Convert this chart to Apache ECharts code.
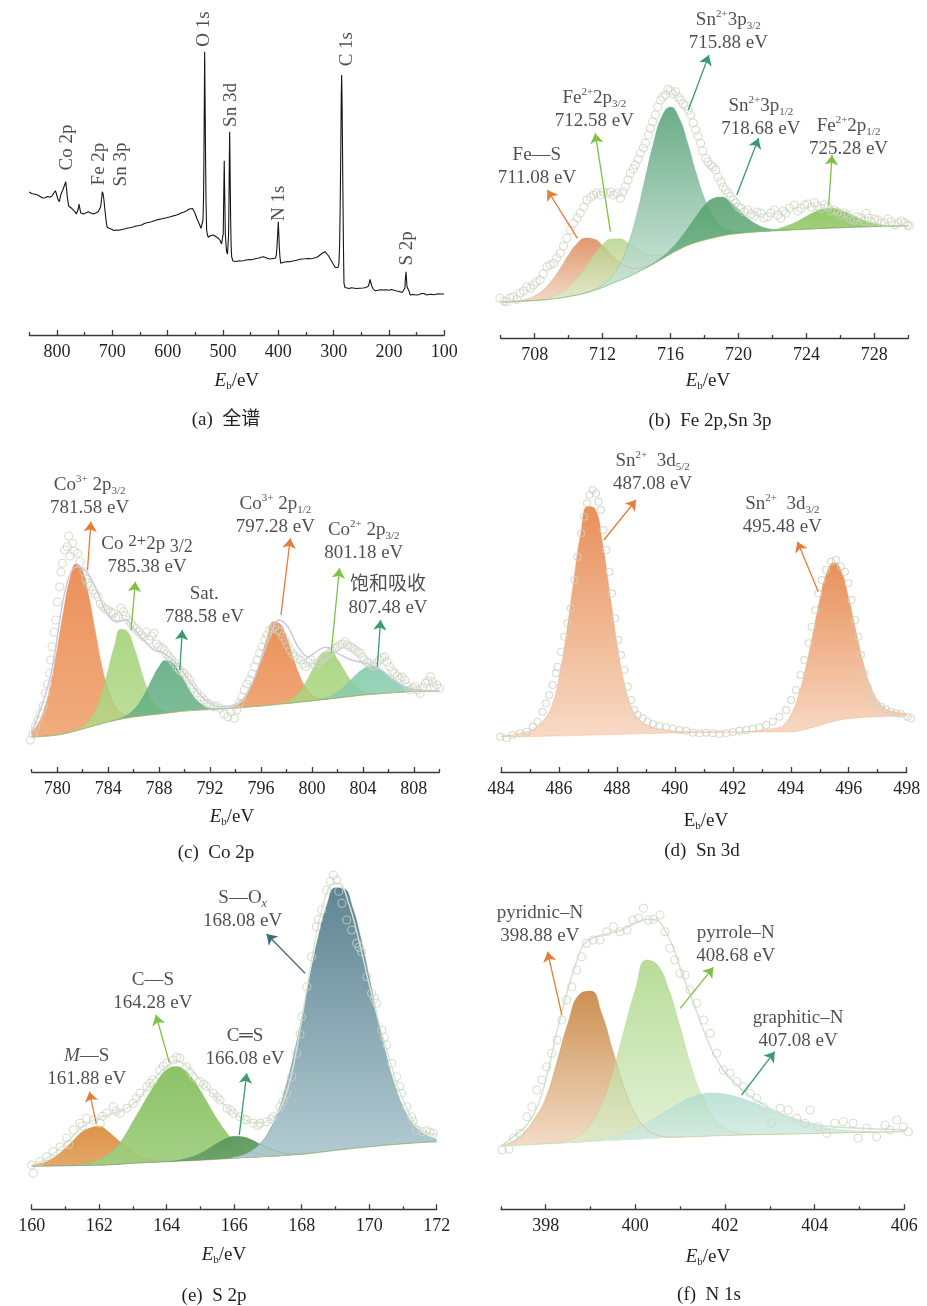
<!DOCTYPE html>
<html>
<head>
<meta charset="utf-8">
<script src="https://cdn.jsdelivr.net/npm/echarts@6.0.0/dist/echarts.min.js"></script>
<style>
html,body{margin:0;padding:0;background:#fff;}
#chart{width:927px;height:1306px;}
</style>
</head>
<body>
<div id="chart"></div>
<script>
// ===================== DATA =====================
// (a) survey spectrum: [binding energy eV, intensity a.u.]
const surveyData = [[850,143],[846,141.5],[842.8,142.3],[838,140.5],[834,139.8],[830.7,138.3],[826,137],[821.7,137.3],[817,138.5],[812.7,137.7],[809,139],[806.6,140],[803,144.3],[801.5,142],[800.6,143.3],[798.2,135.7],[795.8,133.3],[793.5,139],[792.2,141.7],[789.5,145],[787.3,148.3],[785.5,151],[784.3,153.3],[782.8,147],[781.4,138.3],[778.9,129],[776,127.5],[773.5,126.7],[770,125],[767.5,123.3],[765,121],[763.3,120],[761.5,126],[760.2,131],[758.8,127],[757.2,122.3],[754.5,121.5],[752.4,121],[748,122],[743.4,123.3],[739,122],[734.4,121],[730,122],[725.4,123.3],[722.5,124.5],[721,128.3],[719.2,137],[718.1,143.3],[716.6,141],[715.1,135],[713.5,126],[712,118.3],[710.5,111],[709.1,107.7],[705,106.5],[701.2,105.7],[697,104.5],[692.1,105],[688,104.8],[683,105.5],[678,106],[674.1,106.7],[669,107.2],[664,107.8],[660,108.5],[656,109],[651,109.5],[646,110.2],[642,111.5],[637.9,112.3],[633,112.8],[628,113.5],[624,114.3],[619.8,115],[615,115.6],[610,116.2],[606,116.8],[601.7,117.3],[597,118],[592,118.8],[588,119.4],[583.7,120],[579,121],[574.6,122.3],[570,123],[565.6,124.3],[561,126],[557.8,127.7],[555,126.5],[552.5,124],[550.6,121.7],[547.5,117],[544.6,113.3],[542,110],[539.7,106.7],[537.5,108],[536.1,115],[535,140],[534.3,185],[533.6,240],[533.1,283.3],[532.4,240],[531.8,200],[531.3,168.3],[530.5,130],[529.5,105],[528,100],[526.5,97.7],[522,99.5],[517.5,100],[513,98.5],[508.5,96.7],[505,94.5],[502.5,91],[500.5,93],[499.5,101.7],[498.6,140],[497.7,174.3],[496.8,140],[495.8,101.7],[494.5,90],[493.3,83.3],[491.8,81],[490.9,80],[489.9,100],[489.1,135],[488.5,175],[487.9,203.3],[487.3,175],[486.6,140],[486.1,115],[485.3,90],[484.3,78.3],[482,74],[480.1,72.7],[476,73.5],[471,74.2],[467,74],[463.3,74.3],[458,75],[453,75.5],[449,75.2],[445.2,75.7],[440,76.5],[435,77],[431,77.8],[427.1,78.3],[423,77.5],[419,76.5],[415,76],[410,76.5],[405.5,76.7],[403.5,80],[402.4,88.3],[401.2,100],[400,113.3],[399,100],[398.2,88.3],[397,78],[395.7,71.7],[392,72.5],[388,73],[383,73.5],[378.9,73.3],[374,74],[369,74.5],[365,75],[360.8,75.7],[356,76],[351,76.2],[346,76.5],[341,76.3],[336.7,76.7],[332,77.5],[328,78.5],[324.7,80],[320,82],[317,83],[315.6,83.3],[312,81.5],[309,79],[307.8,77.7],[305,75],[302,72],[300.6,70],[297,67.5],[294.5,66.7],[292,67.5],[290.4,71.7],[289.2,90],[288,135],[287,190],[286.2,240],[285.5,260],[284.8,235],[284,190],[283.1,135],[282.3,90],[281.3,51.7],[279.5,47.5],[277.7,46.3],[272,46.5],[268,47.3],[264.5,47],[259,46.5],[253,46.8],[246.4,47],[242,47.5],[239,48],[237.4,48.7],[235.5,52],[234.3,55.7],[233,53],[231.3,49.3],[229,46.5],[225.3,44.3],[220,44.8],[215,45.3],[210.3,45],[205,45.2],[200,44.8],[196,45.5],[192.2,45],[188,44.2],[184,43.8],[180.1,43.3],[176,42.5],[172.9,41],[171.2,47],[170.5,55],[169.2,63.3],[168.3,56],[167.4,48.3],[166,49],[164.4,47.7],[163,43],[162,40],[158,40.5],[154,40.3],[149.9,40],[145,40.5],[141,41.5],[139.1,42.3],[137,41.5],[134,40.6],[131.8,40],[128,40.5],[124,40.7],[119.8,40.3],[115,40.8],[111,41.2],[107.7,41.7],[104,41],[100.5,41]];
const surveyNames = ['Co 2p','Fe 2p','Sn 3p','O 1s','Sn 3d','N 1s','C 1s','S 2p'];
const surveyNameAt = [[781,187.5],[723.2,171],[684.7,170.5],[533.4,306],[485.9,230],[398.4,131.7],[275,285.8],[166.5,86.7]];

// (b) Fe 2p, Sn 3p — fitted components (height above background)
const feX = [706,706.5,707,707.5,708,708.5,709,709.5,710,710.5,711,711.5,712,712.5,713,713.5,714,714.5,715,715.5,716,716.5,717,717.5,718,718.5,719,719.5,720,720.5,721,721.5,722,722.5,723,723.5,724,724.5,725,725.5,726,726.5,727,727.5,728,728.5,729,729.5,730];
const feBg = [36,36,36.5,37,37.5,38,39,40,41.5,43,45,47.5,50.5,54,57.5,61,65,69.5,74,79,84,88.5,92.5,95.5,98,100,102,103.5,104.5,105.3,106,106.5,107,107.5,108,108.4,108.8,109.2,109.6,110,110.3,110.6,110.9,111.2,111.4,111.6,111.8,112,112];
const feFeS = [0,0.2,0.7,1.9,4.7,9.9,18.4,29.6,41.8,51.4,55,51.4,41.8,29.6,18.4,9.9,4.7,1.9,0.7,0.2,0,0,0,0,0,0,0,0,0,0,0,0,0,0,0,0,0,0,0,0,0,0,0,0,0,0,0,0,0];
const feFe2p32 = [0,0,0,0.1,0.3,0.9,2.2,4.9,9.7,17.1,26.3,35.7,42.8,45,41.7,34,24.4,15.4,8.6,4.2,1.8,0.7,0.2,0,0,0,0,0,0,0,0,0,0,0,0,0,0,0,0,0,0,0,0,0,0,0,0,0,0];
const feSn3p32 = [0,0,0,0,0,0,0,0,0,0,0.2,0.9,2.5,6.8,16,32.6,57.9,89.8,121.4,143.1,147.1,131.7,103,70.2,41.6,21.6,9.8,3.8,1.3,0.4,0.1,0,0,0,0,0,0,0,0,0,0,0,0,0,0,0,0,0,0];
const feSn3p12 = [0,0,0,0,0,0,0,0,0,0,0,0,0,0,0,0,0,0.2,0.7,1.9,4.6,9.6,17,26.1,34.6,39.5,39,33.1,24.3,15.3,8.4,3.9,1.6,0.6,0.2,0,0,0,0,0,0,0,0,0,0,0,0,0,0];
const feFe2p12 = [0,0,0,0,0,0,0,0,0,0,0,0,0,0,0,0,0,0,0,0,0,0,0,0,0,0,0,0,0,0,0.2,0.5,1.2,2.7,5.2,8.7,13,17,19.5,19.8,17.6,13.9,9.6,5.8,3.1,1.5,0.6,0.2,0.1];
const feRaw = [[705.96,39.7],[706.2,37],[706.35,36.3],[706.55,40],[706.74,41.3],[706.95,38.5],[707.14,44.7],[707.35,47],[707.54,51.3],[707.75,50],[707.93,53],[708.1,56],[708.32,58],[708.5,64],[708.72,71.3],[708.9,73],[709.11,74.7],[709.3,80],[709.5,84.7],[709.7,92],[709.9,99.7],[710.1,108],[710.29,114.7],[710.5,120],[710.68,124.7],[710.9,131],[711.08,138],[711.3,141],[711.47,143],[711.65,145],[711.87,143],[712.05,146],[712.26,144.7],[712.45,146],[712.65,143],[712.85,145],[713.05,139.7],[713.2,146],[713.34,151.3],[713.5,158],[713.64,164.7],[713.8,169],[713.93,173],[714.1,179],[714.23,184.7],[714.4,190],[714.52,194.7],[714.7,203],[714.82,209.7],[714.95,216],[715.11,223],[715.25,231],[715.41,238],[715.55,241],[715.71,243],[715.85,249],[716.0,247.3],[716.15,244],[716.3,246.3],[716.45,241],[716.59,238],[716.75,234],[716.89,232],[717.05,228],[717.18,223],[717.33,215],[717.48,208],[717.62,202],[717.77,194.7],[717.9,187],[718.07,179.7],[718.2,176],[718.37,173],[718.5,171],[718.66,168],[718.8,161],[718.96,156.3],[719.1,151],[719.25,148],[719.4,145],[719.55,141.3],[719.7,138],[719.84,134.7],[720.0,131],[720.14,129.7],[720.35,126],[720.53,128],[720.75,124],[720.93,122],[721.1,126],[721.32,124.7],[721.5,120],[721.71,121.3],[721.9,125],[722.11,128],[722.3,123],[722.5,119.7],[722.65,127],[722.79,124.7],[723.0,130],[723.29,133],[723.5,127],[723.68,129.7],[723.9,133],[724.07,134],[724.3,131],[724.47,135.3],[724.65,132],[724.86,129.7],[725.05,133],[725.26,131.3],[725.45,127],[725.65,128],[725.85,126],[726.05,123],[726.25,125],[726.44,123],[726.6,119],[726.83,118],[727.0,121],[727.23,119.7],[727.4,117],[727.52,124.7],[727.65,120],[727.82,116.3],[728.0,119],[728.21,118],[728.4,115],[728.6,115.3],[728.8,119],[729.0,116.3],[729.2,113],[729.4,115],[729.6,117],[729.79,115.3],[729.95,113],[730.05,112]];

// (c) Co 2p
const coX = [778,778.5,779,779.5,780,780.5,781,781.5,782,782.5,783,783.5,784,784.5,785,785.5,786,786.5,787,787.5,788,788.5,789,789.5,790,790.5,791,791.5,792,792.5,793,793.5,794,794.5,795,795.5,796,796.5,797,797.5,798,798.5,799,799.5,800,800.5,801,801.5,802,802.5,803,803.5,804,804.5,805,805.5,806,806.5,807,807.5,808,808.5,809,809.5,810];
const coBg = [35,35.3,35.7,36.3,37,38.2,39.6,41.2,43,44.8,46.6,48.3,50,51.5,52.8,54,55,55.8,56.6,57.3,58,58.8,59.5,60.3,61,61.4,61.8,62.2,62.5,62.9,63.2,63.6,64,64.5,65,65.5,66,66.6,67.2,67.9,68.5,69.1,69.8,70.4,71,71.8,72.5,73.3,74,74.8,75.5,76.3,77,77.5,78,78.5,79,79.4,79.8,80.2,80.5,80.7,80.8,80.9,81];
const coCo3p32 = [5.3,13,28,52.7,86.4,123.4,153.7,167,158,130.4,93.8,58.8,32.2,15.3,6.4,2.3,0.7,0.2,0,0,0,0,0,0,0,0,0,0,0,0,0,0,0,0,0,0,0,0,0,0,0,0,0,0,0,0,0,0,0,0,0,0,0,0,0,0,0,0,0,0,0,0,0,0,0];
const coCo2p32 = [0,0,0,0,0,0,0,0.7,2.3,6.5,15.5,31.1,52.3,75,90,86.5,71,50,29.5,14.5,6,2.1,0.7,0.2,0,0,0,0,0,0,0,0,0,0,0,0,0,0,0,0,0,0,0,0,0,0,0,0,0,0,0,0,0,0,0,0,0,0,0,0,0,0,0,0,0];
const coSat = [0,0,0,0,0,0,0,0,0,0,0,0,0,0.4,1.1,3.1,7.2,14.4,24.9,37,47.6,52.8,50.5,41.7,29.7,18.2,9.6,4.4,1.7,0.6,0.2,0,0,0,0,0,0,0,0,0,0,0,0,0,0,0,0,0,0,0,0,0,0,0,0,0,0,0,0,0,0,0,0,0,0];
const coCo3p12 = [0,0,0,0,0,0,0,0,0,0,0,0,0,0,0,0,0,0,0,0,0,0,0,0,0,0,0,0,0,0,0.2,0.6,2.1,6,14.3,28.6,48.2,68.5,83,80,66.5,47,28,14,6,2.1,0.6,0.2,0,0,0,0,0,0,0,0,0,0,0,0,0,0,0,0,0];
const coCo2b = [0,0,0,0,0,0,0,0,0,0,0,0,0,0,0,0,0,0,0,0,0,0,0,0,0,0,0,0,0,0,0,0,0,0,0,0,0,0,0.2,0.6,1.8,4.7,10.2,19,30.3,41,47.4,46.6,39.1,27.9,17,8.8,3.9,1.5,0.5,0.1,0,0,0,0,0,0,0,0,0];
const coShake = [0,0,0,0,0,0,0,0,0,0,0,0,0,0,0,0,0,0,0,0,0,0,0,0,0,0,0,0,0,0,0,0,0,0,0,0,0,0,0,0,0,0,0,0,0.3,0.7,1.6,3.3,6.2,10.5,15.9,21.4,25.8,27.9,27,23.4,18.1,12.6,7.8,4.3,2.1,0.9,0.4,0.1,0];
const coEnvelope = [[777.9,37],[779.4,92],[780.7,185.3],[781.55,205.3],[782.3,200.3],[783.1,182],[783.9,158.7],[784.7,150.3],[785.4,152],[786.0,143.7],[786.8,132],[787.6,122],[788.4,118.7],[789.2,110.3],[789.96,98.7],[790.7,85.3],[791.8,70.3],[792.8,65.3],[793.9,67],[794.9,78.7],[796.0,112],[796.8,140.3],[797.4,152],[798.1,145.3],[798.9,125.3],[799.7,115.3],[800.5,122],[801.1,124.7],[802.0,118.7],[803.1,112],[804.1,109.3],[805.2,103.7],[806.2,93.7],[807.3,85.3],[808.3,82],[810,81.3]];
const coRaw = [[777.9,32],[778.1,38],[778.3,45.3],[778.5,52],[778.7,58.7],[778.9,66],[779.1,78.7],[779.25,88],[779.4,98.7],[779.5,112],[779.6,125.3],[779.75,140],[779.9,152],[780.0,170],[780.2,185.3],[780.3,200],[780.4,208.7],[780.6,222],[780.8,225.3],[780.9,236],[781.0,216],[781.2,228.7],[781.35,221],[781.6,218.7],[781.8,210],[782.1,200.3],[782.25,193],[782.4,188.7],[782.6,186],[782.8,182],[783.0,178],[783.2,175.3],[783.4,168],[783.6,165.3],[783.8,163],[784.0,162],[784.2,160],[784.4,158.7],[784.6,154],[784.8,155.3],[785.0,164],[785.2,160.3],[785.4,156],[785.6,152],[785.8,149],[786.0,145.3],[786.2,143],[786.4,140.3],[786.6,137],[786.8,135.3],[787.0,140],[787.2,132],[787.4,136],[787.6,138.7],[787.8,128],[787.99,125.3],[788.2,124],[788.4,122],[788.6,118],[788.8,115.3],[789.0,112],[789.2,108.7],[789.4,105],[789.6,102],[789.8,100],[789.96,98.7],[790.2,95],[790.4,92],[790.55,87],[790.7,83.7],[791.0,79],[791.3,75.3],[791.55,72],[791.8,68.7],[792.05,67],[792.3,65.3],[792.55,66],[792.8,63.7],[793.1,58],[793.4,55.3],[793.65,60],[793.9,53.7],[794.1,62],[794.3,68.7],[794.5,75],[794.7,82],[794.9,88],[795.1,92],[795.3,98],[795.5,105.3],[795.7,112],[795.9,118.7],[796.1,125],[796.3,132],[796.5,137],[796.7,142],[796.9,144],[797.1,145.3],[797.3,142],[797.5,140.3],[797.7,136],[797.9,132],[798.1,127],[798.3,122],[798.5,118],[798.7,115.3],[798.9,113],[799.1,112],[799.3,108],[799.5,105.3],[799.7,110],[799.9,112],[800.1,108],[800.3,105.3],[800.5,109],[800.7,112],[800.85,114],[801.0,115.3],[801.2,117],[801.4,118.7],[801.6,121],[801.8,123.7],[802.0,125],[802.2,127],[802.4,128],[802.6,130.3],[802.8,127],[803.0,125.3],[803.2,124],[803.4,122],[803.6,120],[803.8,118.7],[803.95,115],[804.1,112],[804.3,110],[804.5,108.7],[804.7,106],[804.9,105.3],[805.1,109],[805.3,112],[805.5,114],[805.7,115.3],[805.9,110],[806.1,105.3],[806.3,101],[806.5,98.7],[806.7,96],[806.9,93.7],[807.1,95],[807.3,92],[807.5,86],[807.7,82],[807.9,84],[808.1,85.3],[808.3,82],[808.5,78.7],[808.7,84],[808.9,88.7],[809.1,91],[809.3,95.3],[809.45,90],[809.6,85.3],[809.8,87],[810.0,83.7]];

// (d) Sn 3d
const snX = [484,484.25,484.5,484.75,485,485.25,485.5,485.75,486,486.25,486.5,486.75,487,487.25,487.5,487.75,488,488.25,488.5,488.75,489,489.25,489.5,489.75,490,490.25,490.5,490.75,491,491.25,491.5,491.75,492,492.25,492.5,492.75,493,493.25,493.5,493.75,494,494.25,494.5,494.75,495,495.25,495.5,495.75,496,496.25,496.5,496.75,497,497.25,497.5,497.75,498];
const snBg = [35,35.1,35.2,35.4,35.5,35.6,35.8,35.9,36,36.2,36.4,36.6,36.8,37,37.2,37.4,37.6,37.8,38,38.2,38.4,38.5,38.7,38.8,39,39.1,39.2,39.3,39.4,39.5,39.6,39.7,39.8,39.8,39.9,39.9,40,40,40.1,40.1,40.2,41,42.5,44.5,46.5,48.8,50.7,52.2,53.2,54,54.6,55,55.3,55.6,55.8,55.9,56];
const sn3d52 = [1,1.5,2.5,4,6,10,17,30,58,101,153,202,229,226,193,143,92,52,27,15,9,6,4,3,2,1.6,1.2,1,0.8,0.6,0.5,0.4,0.3,0.3,0.2,0.2,0.2,0.1,0.1,0.1,0.1,0,0,0,0,0,0,0,0,0,0,0,0,0,0,0,0];
const sn3d32 = [0,0,0,0,0,0,0,0,0,0,0,0,0,0,0,0,0,0,0,0,0,0,0,0,0,0,0,0,0,0,0,0,0,0,0.5,1,2,3,4,7,17,34,60,92,126,151,159,148,121,87,55,31,16,8.5,5,3.5,2.5];
const snRaw = [[483.97,35.3],[484.2,33.7],[484.4,37],[484.66,38.7],[484.9,40.3],[485.1,45.3],[485.26,50.3],[485.43,60.3],[485.55,68.7],[485.66,77],[485.78,87],[485.89,98.7],[485.95,105.3],[486.07,120.3],[486.18,135.3],[486.3,148.7],[486.41,163.7],[486.53,192],[486.64,215.3],[486.76,238.7],[486.87,255.3],[486.97,268.7],[487.05,277],[487.16,282],[487.28,278.7],[487.36,270.3],[487.45,262],[487.54,242],[487.63,222],[487.74,200.3],[487.83,178.7],[487.94,153.7],[488.05,132],[488.14,117],[488.26,102],[488.37,85.3],[488.49,72],[488.6,62],[488.72,57],[488.89,53.7],[489.06,50.3],[489.24,48],[489.47,46],[489.7,44.7],[489.93,43.3],[490.16,42],[490.39,41.3],[490.62,39.3],[490.85,38.7],[491.08,39.3],[491.31,38.7],[491.54,38],[491.77,38.7],[492.0,40],[492.23,41.3],[492.46,42],[492.69,43.3],[492.92,44.7],[493.15,47],[493.38,50.3],[493.61,55.3],[493.84,62],[494.01,72],[494.18,82],[494.33,97],[494.47,112],[494.61,128.7],[494.72,145.3],[494.84,162],[494.95,178.7],[495.07,192],[495.22,202],[495.39,210.3],[495.56,212],[495.73,205.3],[495.87,200.3],[495.99,188.7],[496.1,172],[496.22,152],[496.33,135.3],[496.42,117],[496.54,98.7],[496.65,85.3],[496.79,75.3],[496.94,68.7],[497.11,65.3],[497.28,62.7],[497.46,60.3],[497.63,58.7],[497.8,58],[498.03,55.3],[498.15,53.7]];

// (e) S 2p
const sX = [160,160.25,160.5,160.75,161,161.25,161.5,161.75,162,162.25,162.5,162.75,163,163.25,163.5,163.75,164,164.25,164.5,164.75,165,165.25,165.5,165.75,166,166.25,166.5,166.75,167,167.25,167.5,167.75,168,168.25,168.5,168.75,169,169.25,169.5,169.75,170,170.25,170.5,170.75,171,171.25,171.5,171.75,172];
const sBg = [43,43.1,43.2,43.4,43.5,43.6,43.8,43.9,44,44.4,44.8,45.4,46,46.4,46.8,47.1,47.5,47.9,48.3,48.6,49,49.5,50,50.5,51,51.4,51.8,52.1,52.5,53,53.6,54.3,55,55.9,56.9,57.9,59,59.9,60.8,61.7,62.5,63.3,64.1,64.8,65.5,66.1,66.7,67.1,67.5];
const sMS = [1.1,2.6,5.6,10.6,17.7,26,33.7,37.6,39,33.9,26.3,18,10.8,5.8,2.7,1.1,0.4,0.1,0,0,0,0,0,0,0,0,0,0,0,0,0,0,0,0,0,0,0,0,0,0,0,0,0,0,0,0,0,0,0];
const sCS = [0,0,0,0,0.2,0.6,1.4,3,5.7,10.4,17.4,28,42,56,70,83,92,95,91.8,82.7,69.6,54.6,40,27.3,17.4,10.4,5.7,3,1.4,0.6,0.2,0,0,0,0,0,0,0,0,0,0,0,0,0,0,0,0,0,0];
const sCdS = [0,0,0,0,0,0,0,0,0,0,0,0,0,0,0,0,0.2,0.6,1.9,3.9,7.1,11.4,16.1,20.1,22,21.1,17.9,13.3,8.8,5.1,2.6,1.2,0.4,0,0,0,0,0,0,0,0,0,0,0,0,0,0,0,0];
const sSOx = [0,0,0,0,0,0,0,0,0,0,0,0,0,0,0,0,0,0,0,0,0,0,0,0,1.4,3.2,6.7,13.2,24.1,41.2,65.8,98.2,137,178.4,217.2,247,262.6,260.8,242,210,170,128.8,91.2,60.3,37.2,21.5,11.6,5.8,2.7];
const sEnvelope = [[160,44],[160.5,52],[161,66],[161.5,82],[161.9,90],[162.3,95],[162.7,99],[163.1,108],[163.5,125],[163.9,140],[164.3,148],[164.7,140],[165.1,125],[165.5,111],[165.9,99],[166.3,90],[166.7,86],[167.1,90],[167.4,103],[167.7,135],[168.0,190],[168.3,250],[168.6,300],[168.9,325],[169.1,326],[169.4,305],[169.7,268],[170.0,225],[170.3,185],[170.6,150],[170.9,118],[171.2,95],[171.5,80],[171.8,76],[172,75]];
const sRaw = [[160.0,44.3],[160.05,36],[160.25,47.6],[160.44,52.6],[160.64,57.6],[160.84,62.6],[161.04,71],[161.1,65],[161.23,79.3],[161.43,86],[161.5,83],[161.63,91],[161.83,89.3],[162.03,86],[162.1,93],[162.22,96],[162.42,102.6],[162.5,98],[162.62,96],[162.82,101],[163.01,106],[163.1,111],[163.21,116],[163.41,122.6],[163.5,126],[163.6,129.3],[163.8,139.3],[163.9,143],[164.0,146],[164.2,149.3],[164.3,152],[164.39,151],[164.59,142.6],[164.7,137],[164.79,132.6],[164.99,127.6],[165.1,125],[165.18,122.6],[165.38,116],[165.5,112],[165.58,109.3],[165.78,101],[165.9,99],[165.97,96],[166.17,92.6],[166.3,90],[166.37,89.3],[166.57,86],[166.7,84],[166.76,86],[166.96,87.6],[167.1,90],[167.16,92.6],[167.36,102.6],[167.45,108],[167.55,116],[167.7,132.6],[167.85,156],[167.95,175],[168.0,192.6],[168.15,222.6],[168.29,252.6],[168.44,282.6],[168.5,290],[168.59,299.3],[168.74,319.3],[168.85,328],[168.94,334.3],[169.04,329.3],[169.1,318],[169.19,306],[169.33,289.3],[169.48,279.3],[169.63,266],[169.7,262],[169.78,257.6],[169.93,232.6],[170.07,216],[170.15,211],[170.22,206],[170.37,179.3],[170.45,172],[170.52,164.3],[170.67,146],[170.81,132.6],[170.9,123],[170.96,116],[171.11,102.6],[171.26,92.6],[171.3,88],[171.41,79.3],[171.56,77.6],[171.7,78.6],[171.8,77],[171.9,76]];

// (f) N 1s
const nX = [397,397.25,397.5,397.75,398,398.25,398.5,398.75,399,399.25,399.5,399.75,400,400.25,400.5,400.75,401,401.25,401.5,401.75,402,402.25,402.5,402.75,403,403.25,403.5,403.75,404,404.25,404.5,404.75,405,405.25,405.5,405.75,406];
const nBg = [63.3,63.8,64.3,64.8,65.4,65.9,66.4,66.9,67.5,68.1,68.7,69.3,69.8,70.4,71,71.5,72,72.5,72.9,73.3,73.7,74,74.3,74.6,74.8,75.1,75.3,75.6,75.8,76.1,76.3,76.6,76.8,77,77.2,77.4,77.6];
const nPyridinic = [0.7,4,12,26,45.9,81.7,120.6,148,150.7,127.6,89.6,52.3,25.4,10.2,3.4,0.9,0.2,0,0,0,0,0,0,0,0,0,0,0,0,0,0,0,0,0,0,0,0];
const nPyrrole = [0,0,0,0,0.2,0.7,2.4,7,17.5,37.7,69.5,110.3,150,179,173,148,110,70,38.7,18.1,7.3,2.5,0.7,0.2,0,0,0,0,0,0,0,0,0,0,0,0,0];
const nGraphitic = [0,0,0,0,0,0,0,0,1.3,2.4,4.3,7.1,11,16.1,22.2,28.7,34.8,39.7,42.5,42.9,41.5,38.7,34.7,30.1,25.1,20.2,15.6,11.7,8.4,5.8,3.9,2.5,1.6,0.9,0.5,0.3,0.1];
const nEnvelope = [[397.03,64.3],[397.28,72.6],[397.58,84.3],[397.8,101],[398.02,132.6],[398.24,176],[398.47,216],[398.65,242.6],[398.84,264.3],[399.06,271.6],[399.36,275.3],[399.66,278.6],[399.95,285.3],[400.25,290],[400.48,289.3],[400.66,279.3],[400.85,261],[401.07,232.6],[401.3,206],[401.52,179.3],[401.74,156],[401.96,139.3],[402.19,127.6],[402.48,116],[402.78,106.6],[403.15,97.6],[403.53,91],[403.97,85.3],[404.42,82.6],[405.01,81],[405.61,80],[406.05,79.3]];
const nRaw = [[397.03,59.3],[397.18,60],[397.28,71],[397.43,76],[397.58,92.6],[397.69,102.6],[397.8,119.3],[397.91,129.3],[398.02,142.6],[398.13,156],[398.25,169.3],[398.36,189.3],[398.47,209.3],[398.58,222.6],[398.69,239.3],[398.8,252.6],[398.91,266],[399.06,269.3],[399.21,269.3],[399.36,277.6],[399.51,282.6],[399.66,277.6],[399.81,279.3],[399.95,289.3],[400.07,291],[400.18,301],[400.29,289.3],[400.4,290],[400.55,294.3],[400.66,277.6],[400.77,261],[400.88,249.3],[401.0,236],[401.11,234.3],[401.22,219.3],[401.37,206],[401.52,189.3],[401.67,176],[401.81,156],[401.96,139.3],[402.11,136],[402.26,127.6],[402.41,122.6],[402.56,116],[402.71,111],[402.85,102.6],[403.04,86],[403.23,101],[403.41,99.3],[403.6,91],[403.78,86],[403.9,99.3],[404.08,82.6],[404.27,76],[404.45,86],[404.64,87.6],[404.86,86],[404.97,71],[405.16,81],[405.38,72.6],[405.57,84.3],[405.68,79.3],[405.83,89.3],[405.98,82.6],[406.09,77.6]];

// axis ticks for each panel
const ticksMajor = [[800,700,600,500,400,300,200,100],[708,712,716,720,724,728],[780,784,788,792,796,800,804,808],[484,486,488,490,492,494,496,498],[160,162,164,166,168,170,172],[398,400,402,404,406]];
const ticksMinor = [[850,750,650,550,450,350,250,150],[706,710,714,718,722,726,730],[778,782,786,790,794,798,802,806,810],[485,487,489,491,493,495,497],[161,163,165,167,169,171],[397,399,401,403,405]];

// ===================== STYLE / LAYOUT =====================
const FONT = "'Liberation Serif','Times New Roman','Noto Sans CJK SC',serif";
const INK = '#231f20';
const AX = '#3a3a3a';
const ORANGE = '#EA7B34', LGREEN = '#7DC243', TEAL = '#3A9B6C', SLATE = '#3F6D7B';
const RAW_STROKE = '#cdd5c2';

const PANELS = [
  {grid: {left: 29.3, top: 5, width: 415, height: 330}, min: 100, max: 850, inverse: true},
  {grid: {left: 500.7, top: 8, width: 407.6, height: 330}, min: 706, max: 730},
  {grid: {left: 31.7, top: 440, width: 407.6, height: 332}, min: 778, max: 810},
  {grid: {left: 501, top: 440, width: 405.7, height: 332}, min: 484, max: 498},
  {grid: {left: 31.7, top: 860, width: 405, height: 349.3}, min: 160, max: 172},
  {grid: {left: 500.9, top: 860, width: 403.4, height: 349.3}, min: 397, max: 406}
];

const RICH = {
  n:   {fontFamily: FONT, fontSize: 19, lineHeight: 23, color: INK},
  i:   {fontFamily: FONT, fontSize: 19, lineHeight: 23, color: INK, fontStyle: 'italic'},
  sup: {fontFamily: FONT, fontSize: 11, lineHeight: 12, color: INK, verticalAlign: 'top'},
  sub: {fontFamily: FONT, fontSize: 11, lineHeight: 12, color: INK, verticalAlign: 'bottom'},
  subi:{fontFamily: FONT, fontSize: 12, lineHeight: 12, color: INK, verticalAlign: 'bottom', fontStyle: 'italic'},
  supL:{fontFamily: FONT, fontSize: 17, lineHeight: 10, color: INK, verticalAlign: 'top'},
  subL:{fontFamily: FONT, fontSize: 18, lineHeight: 19, color: INK, verticalAlign: 'bottom'}
};

// peak annotations: text block centre, arrow tail and arrow head (data coordinates)
const notes = {
  1: [
    {text: '{n|Sn}{sup|2+}{n|3p}{sub|3/2}\n{n|715.88 eV}', at: [719.40, 306.3], from: [717.05, 228], to: [718.26, 283], color: TEAL},
    {text: '{n|Fe}{sup|2+}{n|2p}{sub|3/2}\n{n|712.58 eV}', at: [711.51, 228], from: [712.46, 106.3], to: [711.57, 204.7], color: LGREEN},
    {text: '{n|Fe—S}\n{n|711.08 eV}', at: [708.13, 171.3], from: [710.52, 99.7], to: [708.75, 148], color: ORANGE},
    {text: '{n|Sn}{sup|2+}{n|3p}{sub|1/2}\n{n|718.68 eV}', at: [721.32, 220.5], from: [719.90, 143], to: [721.18, 199.7], color: TEAL},
    {text: '{n|Fe}{sup|2+}{n|2p}{sub|1/2}\n{n|725.28 eV}', at: [726.48, 200.5], from: [725.31, 132], to: [725.51, 183], color: LGREEN}
  ],
  2: [
    {text: '{n|Co}{sup|3+}{n| 2p}{sub|3/2}\n{n|781.58 eV}', at: [782.55, 275.3], from: [782.38, 202], to: [782.65, 250.3], color: ORANGE},
    {text: '{n|Co }{supL|2+}{n|2p}{subL| 3/2}\n{n|785.38 eV}', at: [787.06, 216.2], from: [785.80, 142], to: [786.14, 190.3], color: LGREEN},
    {text: '{n|Sat.}\n{n|788.58 eV}', at: [791.55, 166.2], from: [789.63, 102], to: [789.82, 142], color: TEAL},
    {text: '{n|Co}{sup|3+}{n| 2p}{sub|1/2}\n{n|797.28 eV}', at: [797.13, 256.7], from: [797.57, 157], to: [798.30, 233.7], color: ORANGE},
    {text: '{n|Co}{sup|2+}{n| 2p}{sub|3/2}\n{n|801.18 eV}', at: [804.07, 230.8], from: [801.51, 118.7], to: [802.16, 203.7], color: LGREEN},
    {text: '{n|饱和吸收}\n{n|807.48 eV}', at: [805.97, 175.3], from: [805.13, 105.3], to: [805.39, 152], color: TEAL}
  ],
  3: [
    {text: '{n|Sn}{sup|2+}{n|  3d}{sub|5/2}\n{n|487.08 eV}', at: [489.23, 299.5], from: [487.55, 232], to: [488.66, 272], color: ORANGE},
    {text: '{n|Sn}{sup|2+}{n|  3d}{sub|3/2}\n{n|495.48 eV}', at: [493.71, 256.2], from: [494.95, 180.3], to: [494.23, 230.3], color: ORANGE}
  ],
  4: [
    {text: '{n|S—O}{subi|x}\n{n|168.08 eV}', at: [166.25, 299.3], from: [168.10, 236], to: [166.96, 275.3], color: SLATE},
    {text: '{n|C—S}\n{n|164.28 eV}', at: [163.59, 218.1], from: [164.08, 146.7], to: [163.68, 194.3], color: LGREEN},
    {text: '{n|C═S}\n{n|166.08 eV}', at: [166.32, 161.5], from: [166.15, 74.3], to: [166.37, 136], color: TEAL},
    {text: '{i|M}{n|—S}\n{n|161.88 eV}', at: [161.63, 142.1], from: [161.91, 86], to: [161.71, 117.6], color: ORANGE}
  ],
  5: [
    {text: '{n|pyridnic–N}\n{n|398.88 eV}', at: [397.87, 284.6], from: [398.36, 194.3], to: [398.04, 257.6], color: ORANGE},
    {text: '{n|pyrrole–N}\n{n|408.68 eV}', at: [402.24, 264.8], from: [401.0, 201], to: [401.74, 242], color: LGREEN},
    {text: '{n|graphitic–N}\n{n|407.08 eV}', at: [403.63, 179.6], from: [402.37, 114.3], to: [403.11, 157.6], color: TEAL}
  ]
};

// ===================== BUILD =====================
const grids = [], xAxes = [], yAxes = [], series = [];

PANELS.forEach((p, k) => {
  grids.push(Object.assign({outerBoundsMode: 'none', containLabel: false}, p.grid));
  const tickStyle = {color: AX, width: 1.3};
  xAxes.push({
    type: 'value', gridIndex: k, position: 'bottom', min: p.min, max: p.max, inverse: !!p.inverse,
    axisLine: {show: true, onZero: false, lineStyle: {color: AX, width: 1.3}},
    axisTick: {show: true, inside: true, length: 5, customValues: ticksMajor[k], lineStyle: tickStyle},
    axisLabel: {show: true, customValues: ticksMajor[k], margin: 8, fontSize: 18, fontFamily: FONT, color: INK},
    splitLine: {show: false}
  });
  xAxes.push({
    type: 'value', gridIndex: k, position: 'bottom', min: p.min, max: p.max, inverse: !!p.inverse,
    axisLine: {show: false, onZero: false},
    axisTick: {show: true, inside: true, length: 3, customValues: ticksMinor[k], lineStyle: tickStyle},
    axisLabel: {show: false},
    splitLine: {show: false}
  });
  yAxes.push({type: 'value', gridIndex: k, min: 0, max: p.grid.height, show: false});
});

function grad(top, bottom) {
  return new echarts.graphic.LinearGradient(0, 0, 0, 1, [
    {offset: 0, color: top}, {offset: 1, color: bottom}
  ]);
}

// One fitted component = invisible background + component stacked on it.
// Data are stored as [intensity, energy] so that the stack runs along the intensity axis.
function component(k, name, xs, bg, vals, top, bottom, opacity) {
  const stack = 'p' + k + '_' + name;
  const common = {
    type: 'line', xAxisIndex: 2 * k, yAxisIndex: k, stack: stack, encode: {x: 1, y: 0},
    symbol: 'none', smooth: 0.5, silent: true, z: 2
  };
  series.push(Object.assign({}, common, {
    name: stack + '_bg', data: xs.map((x, i) => [bg[i], x]), lineStyle: {opacity: 0}
  }));
  series.push(Object.assign({}, common, {
    name: name, data: xs.map((x, i) => [vals[i], x]),
    lineStyle: {width: 0.8, color: top, opacity: 0.35},
    areaStyle: {color: grad(top, bottom), opacity: opacity}
  }));
}

function rawPoints(k, pts, size) {
  series.push({
    type: 'scatter', xAxisIndex: 2 * k, yAxisIndex: k, data: pts, symbol: 'circle', symbolSize: size || 8,
    itemStyle: {color: 'rgba(255,255,255,0)', borderColor: RAW_STROKE, borderWidth: 1.1},
    clip: false, silent: true, z: 3
  });
}

function envelope(k, pts, color) {
  series.push({
    type: 'line', xAxisIndex: 2 * k, yAxisIndex: k, data: pts, symbol: 'none', smooth: 0.4,
    lineStyle: {color: color, width: 1.4}, silent: true, z: 3
  });
}

function annotate(k, list) {
  series.push({
    type: 'lines', coordinateSystem: 'cartesian2d', xAxisIndex: 2 * k, yAxisIndex: k,
    symbol: ['none', 'arrow'], symbolSize: 10, silent: true, z: 5,
    lineStyle: {width: 1.3, opacity: 1, curveness: 0},
    data: list.map(n => ({coords: [n.from, n.to], lineStyle: {color: n.color}}))
  });
  series.push({
    type: 'scatter', xAxisIndex: 2 * k, yAxisIndex: k, symbolSize: 1,
    itemStyle: {color: 'rgba(0,0,0,0)'}, clip: false, silent: true, z: 6,
    label: {show: true, position: 'inside', align: 'center', verticalAlign: 'middle',
            color: INK, fontFamily: FONT, fontSize: 19, textBorderWidth: 0, rich: RICH},
    data: list.map(n => ({value: n.at, label: {formatter: n.text}}))
  });
}

// (a) survey
series.push({
  type: 'line', xAxisIndex: 0, yAxisIndex: 0, data: surveyData, symbol: 'none',
  lineStyle: {color: '#151515', width: 1.1}, silent: true, z: 3
});
series.push({
  type: 'scatter', xAxisIndex: 0, yAxisIndex: 0, symbolSize: 1, itemStyle: {color: 'rgba(0,0,0,0)'},
  clip: false, silent: true, z: 6,
  label: {show: true, position: 'inside', rotate: 90, align: 'center', verticalAlign: 'middle',
          formatter: '{b}', color: INK, fontFamily: FONT, fontSize: 19, textBorderWidth: 0},
  data: surveyNames.map((nm, i) => ({name: nm, value: surveyNameAt[i]}))
});

// (b) Fe 2p / Sn 3p
component(1, 'FeS', feX, feBg, feFeS, '#DB8656', '#F2D9C5', 0.95);
component(1, 'Fe2p32', feX, feBg, feFe2p32, '#A9CB78', '#E1EECF', 0.8);
component(1, 'Sn3p32', feX, feBg, feSn3p32, '#5BA37B', '#D3EAE0', 0.9);
component(1, 'Sn3p12', feX, feBg, feSn3p12, '#4F9E69', '#7DBB8F', 0.85);
component(1, 'Fe2p12', feX, feBg, feFe2p12, '#86C357', '#CDE7B7', 0.9);
rawPoints(1, feRaw, 8);
annotate(1, notes[1]);

// (c) Co 2p
component(2, 'Co3p32', coX, coBg, coCo3p32, '#EA8B52', '#F0A878', 0.95);
component(2, 'Co2p32', coX, coBg, coCo2p32, '#9DD06E', '#B3DA8E', 0.85);
component(2, 'Sat', coX, coBg, coSat, '#56A77A', '#6DB58B', 0.85);
component(2, 'Co3p12', coX, coBg, coCo3p12, '#EA8B52', '#F0A878', 0.95);
component(2, 'Co2b', coX, coBg, coCo2b, '#9DD06E', '#B3DA8E', 0.85);
component(2, 'Shake', coX, coBg, coShake, '#7DC7A7', '#9BD3BA', 0.85);
envelope(2, coEnvelope, '#c9c6e3');
rawPoints(2, coRaw, 8);
annotate(2, notes[2]);

// (d) Sn 3d
component(3, 'Sn3d52', snX, snBg, sn3d52, '#E8905A', '#F8DAC6', 1);
component(3, 'Sn3d32', snX, snBg, sn3d32, '#E8905A', '#F8DAC6', 1);
rawPoints(3, snRaw, 7);
annotate(3, notes[3]);

// (e) S 2p
component(4, 'MS', sX, sBg, sMS, '#DB8E3F', '#E3A262', 0.95);
component(4, 'CS', sX, sBg, sCS, '#86BF5E', '#9FCF80', 0.95);
component(4, 'CdS', sX, sBg, sCdS, '#5A975B', '#6DA468', 0.95);
component(4, 'SOx', sX, sBg, sSOx, '#5A8190', '#B3CCD3', 0.97);
envelope(4, sEnvelope, '#d8e6d0');
rawPoints(4, sRaw, 8);
annotate(4, notes[4]);

// (f) N 1s
component(5, 'pyridinic', nX, nBg, nPyridinic, '#C7843F', '#F1D8C0', 0.9);
component(5, 'pyrrole', nX, nBg, nPyrrole, '#A0D176', '#DAEECB', 0.75);
component(5, 'graphitic', nX, nBg, nGraphitic, '#B0DBCD', '#D3ECE3', 0.8);
envelope(5, nEnvelope, '#cfe3cc');
rawPoints(5, nRaw, 8);
annotate(5, notes[5]);

// axis titles and panel captions
const axisTitlePos = [[236.8, 381, true], [708, 381, true], [232, 817, true], [706, 821, false], [224, 1255, true], [708, 1257, true]];
const captions = [['(a)  全谱', 226, 420], ['(b)  Fe 2p,Sn 3p', 710, 421], ['(c)  Co 2p', 216, 853], ['(d)  Sn 3d', 702, 851], ['(e)  S 2p', 214, 1296], ['(f)  N 1s', 709, 1295]];

const graphics = [];
axisTitlePos.forEach(([x, y, italic]) => {
  graphics.push({
    type: 'text', x: x, y: y, silent: true,
    style: {
      text: '{e|E}{b|b}{n|/eV}', align: 'center', verticalAlign: 'middle',
      rich: {
        e: {fontFamily: FONT, fontSize: 19, lineHeight: 22, fill: INK, fontStyle: italic ? 'italic' : 'normal'},
        b: {fontFamily: FONT, fontSize: 11, lineHeight: 12, fill: INK, verticalAlign: 'bottom'},
        n: {fontFamily: FONT, fontSize: 19, lineHeight: 22, fill: INK}
      }
    }
  });
});
captions.forEach(([t, x, y]) => {
  graphics.push({
    type: 'text', x: x, y: y, silent: true,
    style: {text: t, align: 'center', verticalAlign: 'middle', fontFamily: FONT, fontSize: 19, fill: INK}
  });
});

const chart = echarts.init(document.getElementById('chart'), null, {renderer: 'canvas'});
chart.setOption({
  animation: false,
  backgroundColor: '#ffffff',
  grid: grids,
  xAxis: xAxes,
  yAxis: yAxes,
  series: series,
  graphic: graphics
});
</script>
</body>
</html>
